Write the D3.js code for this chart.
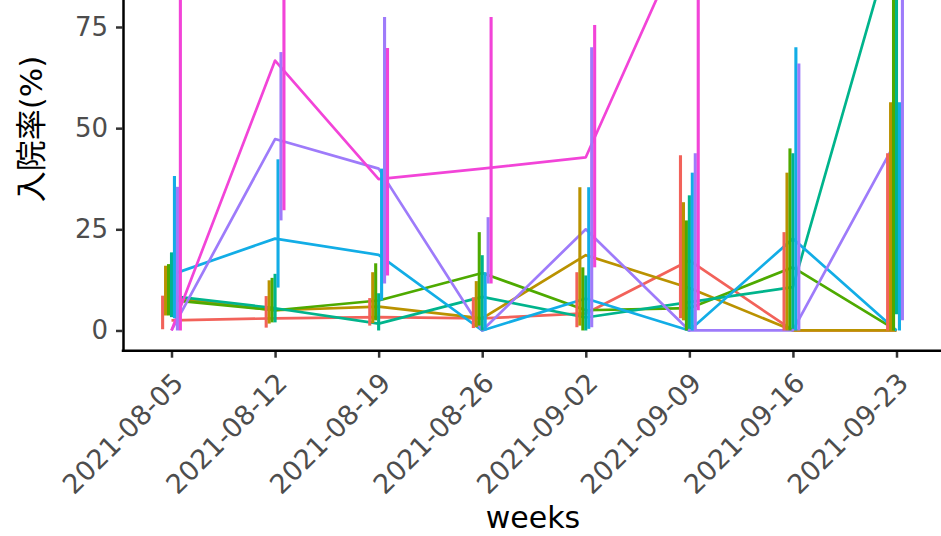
<!DOCTYPE html>
<html>
<head>
<meta charset="utf-8">
<script src="https://cdn.jsdelivr.net/npm/d3@7"></script>
<style>
  html, body { margin: 0; padding: 0; background: #ffffff; }
  svg { display: block; }
</style>
</head>
<body>
<svg id="chart" width="941" height="536"></svg>
<script>
// ---------------- data ----------------
const weeks = ["2021-08-05","2021-08-12","2021-08-19","2021-08-26","2021-09-02","2021-09-09","2021-09-16","2021-09-23"];
const groups = ["1","2","3","4","5","6","7"];
const groupColors = ["#F2625A","#BA9200","#4EAA00","#00B48C","#12ADE6","#9E7BFA","#F244D8"];
const yTicks = [0, 25, 50, 75];

// rate (line) per group
const rate1 = [2.5, 3.0, 3.3, 3.0, 4.2, 17.3, 0, 0];
const rate2 = [8.0, 5.0, 5.9, 3.0, 18.6, 10.5, 0, 0];
const rate3 = [7.5, 5.0, 7.4, 14.2, 5.0, 5.5, 15.6, 0];
const rate4 = [8.5, 5.5, 1.7, 8.3, 3.2, 7.0, 10.7, 100];
const rate5 = [13.8, 22.7, 18.7, 0, 7.9, 0, 22.7, 0];
const rate6 = [0, 47.3, 40.0, 0, 25.0, 0, 0, 47.0];
const rate7 = [0, 66.7, 37.4, 40.0, 42.8, 100, 100, 100];

// error bar lower bounds
const lower1 = [0.3, 0.7, 1.2, 0.6, 0.8, 3.0, 0, 0];
const lower2 = [3.7, 1.7, 1.8, 0.8, 1.2, 2.5, 0, 0];
const lower3 = [3.7, 2.0, 2.5, 1.2, 0, 0, 0, 0];
const lower4 = [3.3, 2.0, 0, 0, 0, 0.4, 0.4, 4.0];
const lower5 = [3.0, 10.6, 7.4, 0, 0.4, 0, 0, 0];
const lower6 = [0, 27.2, 11.6, 11.6, 0.8, 0, 0, 2.5];
const lower7 = [0, 29.7, 13.6, 11.6, 15.6, 5.0, 90, 90];

// error bar upper bounds
const upper1 = [8.6, 8.5, 8.0, 8.2, 14.4, 43.3, 24.3, 43.8];
const upper2 = [16.0, 12.4, 14.4, 12.2, 35.4, 31.7, 39.0, 56.4];
const upper3 = [16.4, 13.0, 16.6, 24.3, 15.6, 27.2, 45.0, 100];
const upper4 = [19.3, 14.0, 9.2, 18.6, 13.6, 33.4, 43.8, 100];
const upper5 = [38.2, 42.3, 40.0, 14.4, 35.4, 39.0, 70.0, 56.4];
const upper6 = [35.5, 68.8, 77.5, 28.0, 70.0, 43.8, 66.0, 100];
const upper7 = [97.5, 94.0, 69.8, 77.5, 75.5, 100, 100, 100];

const rates = [rate1, rate2, rate3, rate4, rate5, rate6, rate7];
const lowers = [lower1, lower2, lower3, lower4, lower5, lower6, lower7];
const uppers = [upper1, upper2, upper3, upper4, upper5, upper6, upper7];

// ---------------- layout ----------------
const svg = d3.select("#chart");
const parse = d3.timeParse("%Y-%m-%d");
const fmt = d3.timeFormat("%Y-%m-%d");
const dates = weeks.map(parse);

const x = d3.scaleTime().domain([dates[0], dates[dates.length - 1]]).range([171.5, 896.5]);
const y = d3.scaleLinear().domain([-5, 105]).range([350.7, -94.4]);
const dodgeDays = 0.2;
const DAY = 86400000;

const tickFont = "'DejaVu Sans', 'Noto Sans CJK JP', sans-serif";

// lines
const line = d3.line().x((d, i) => x(dates[i])).y(d => y(d));
const gLines = svg.append("g");
rates.forEach((r, gi) => {
  gLines.append("path")
    .datum(r)
    .attr("d", line)
    .attr("fill", "none")
    .attr("stroke", groupColors[gi])
    .attr("stroke-width", 2.7)
    .attr("stroke-linejoin", "round");
});

// error bars (dodged)
const gErr = svg.append("g");
groups.forEach((g, gi) => {
  const off = (gi - (groups.length - 1) / 2) * dodgeDays * DAY;
  const rows = dates.map((d, j) => ({ d, lo: lowers[gi][j], hi: uppers[gi][j] }));
  gErr.selectAll(null)
    .data(rows)
    .enter()
    .append("line")
    .attr("x1", r => x(new Date(r.d.getTime() + off)))
    .attr("x2", r => x(new Date(r.d.getTime() + off)))
    .attr("y1", r => y(r.lo))
    .attr("y2", r => y(r.hi))
    .attr("stroke", groupColors[gi])
    .attr("stroke-width", 3.1);
});

// y axis
const yAxis = svg.append("g")
  .attr("transform", "translate(123,0)")
  .call(d3.axisLeft(y).tickValues(yTicks).tickSize(7).tickPadding(8).tickSizeOuter(0));
yAxis.select(".domain").attr("stroke", "#000").attr("stroke-width", 2.5);
yAxis.selectAll(".tick line").attr("stroke", "#333").attr("stroke-width", 2.5);
yAxis.selectAll(".tick text")
  .attr("fill", "#4D4D4D")
  .style("font-family", tickFont)
  .style("font-size", "26px");

// x axis
const xAxis = svg.append("g")
  .attr("transform", "translate(0,350.7)")
  .call(d3.axisBottom(x).tickValues(dates).tickFormat(fmt).tickSize(7).tickSizeOuter(0));
xAxis.select(".domain").remove();
xAxis.selectAll(".tick line").attr("stroke", "#333").attr("stroke-width", 2.5);
xAxis.selectAll(".tick text")
  .attr("x", 0).attr("y", 0).attr("dy", 0)
  .attr("text-anchor", "end")
  .attr("transform", "translate(13,34) rotate(-45)")
  .attr("fill", "#4D4D4D")
  .style("font-family", tickFont)
  .style("font-size", "27px");
svg.append("line")
  .attr("x1", 121.75).attr("x2", 941)
  .attr("y1", y(-5)).attr("y2", y(-5))
  .attr("stroke", "#000").attr("stroke-width", 2.5);

// axis titles
svg.append("text")
  .attr("x", 533).attr("y", 528)
  .attr("text-anchor", "middle")
  .style("font-family", tickFont)
  .style("font-size", "30px")
  .attr("fill", "#000")
  .text("weeks");

svg.append("text")
  .attr("transform", "translate(42,129) rotate(-90)")
  .attr("text-anchor", "middle")
  .style("font-family", tickFont)
  .style("font-size", "31px")
  .attr("fill", "#000")
  .text("入院率(%)");
</script>
</body>
</html>
